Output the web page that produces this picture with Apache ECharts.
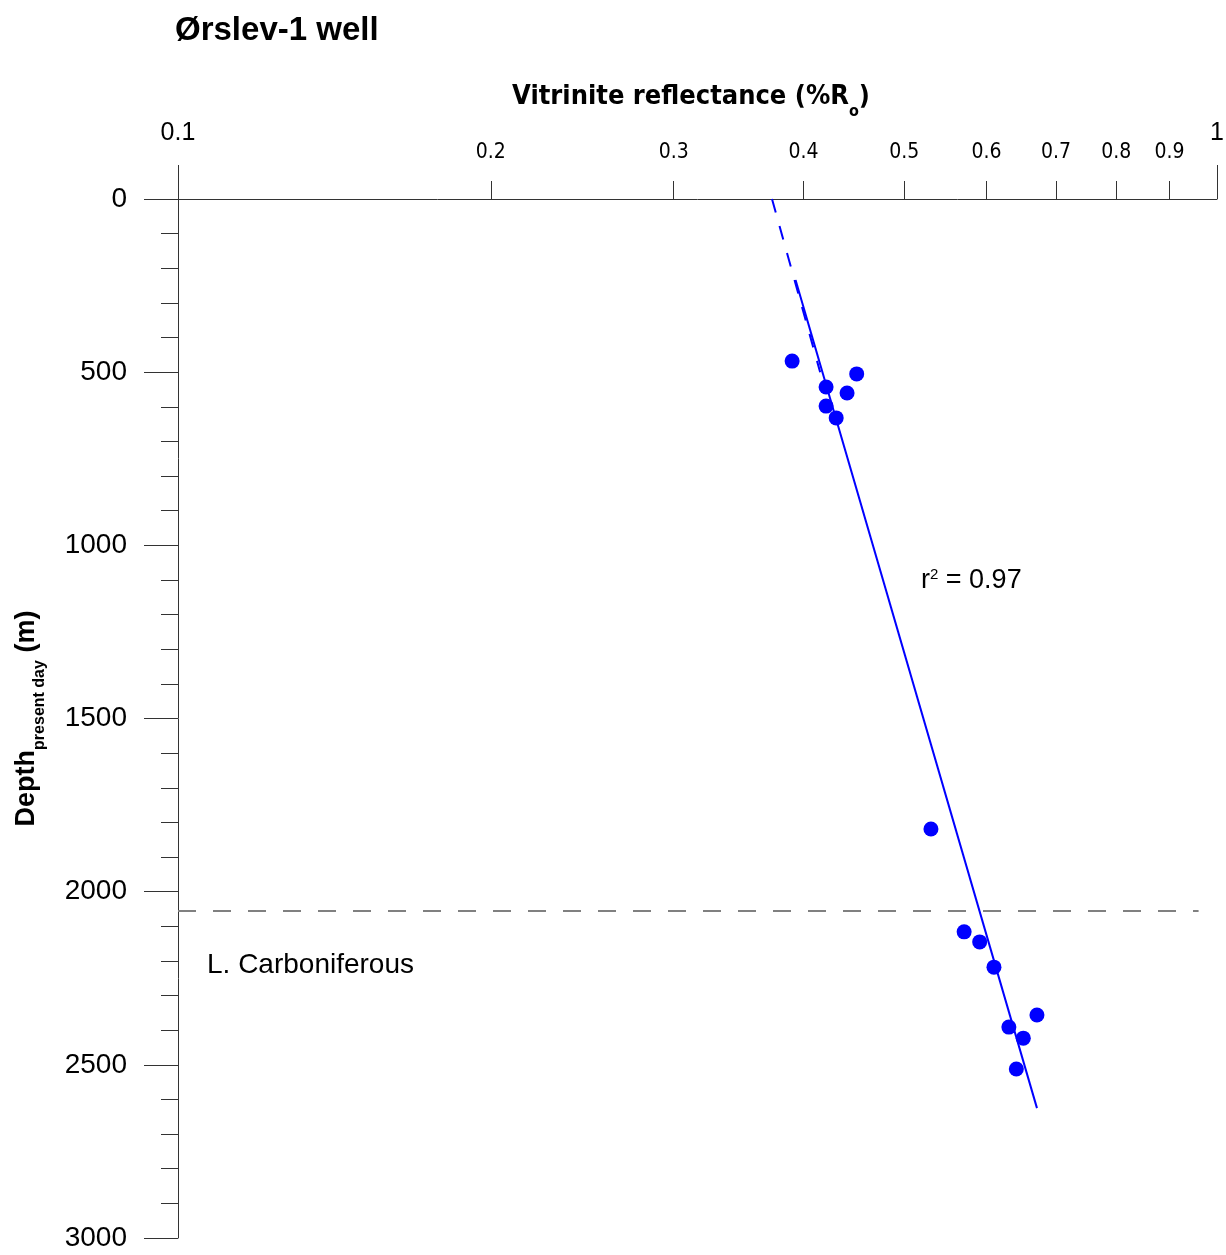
<!DOCTYPE html>
<html><head><meta charset="utf-8">
<script src="https://cdn.jsdelivr.net/npm/echarts@6/dist/echarts.min.js"></script>
<style>html,body{margin:0;padding:0;background:#fff}#c{width:1226px;height:1255px}</style>
</head><body><div id="c"></div>
<script>
// Measured vitrinite reflectance (%Ro) and present-day depth (m)
const ro    = [0.390, 0.4205, 0.4205, 0.430, 0.4405, 0.450, 0.5305, 0.571, 0.591, 0.610, 0.6305, 0.671, 0.651, 0.641];
const depth = [468,   543,    598,    632,   560,    505,   1819,   2116,  2145,  2218,  2391,   2356,  2423,  2512];
// Regression line (solid) and its upward extrapolation (dashed)
const trendRo = [0.393, 0.671];
const trendDepth = [234, 2625];
const extrapRo = [0.373, 0.415];
const extrapDepth = [0, 500];
// Top of Lower Carboniferous
const boundaryRo = [0.1, 0.96];
const boundaryDepth = [2056, 2056];
// Axis ticks
const majorXTicks = [0.1, 1];
const minorXTicks = [0.2, 0.3, 0.4, 0.5, 0.6, 0.7, 0.8, 0.9];

const pts = (xs, ys) => xs.map((x, i) => [x, ys[i]]);
const FONT = 'Arial, "Liberation Sans", Helvetica, sans-serif';
const NARROW = '"Liberation Sans Narrow", "Arial Narrow", "DejaVu Sans Condensed", Arial, sans-serif';
const chart = echarts.init(document.getElementById('c'));
chart.setOption({
  backgroundColor: '#fff',
  animation: false,
  title: [
    { text: 'Ørslev-1 well', left: 170, top: 9,
      textStyle: { fontFamily: FONT, fontWeight: 'bold', fontSize: 33, color: '#000' } },
    { text: '{a|Vitrinite reflectance (%R}{s|o}{a|)}', left: 686, top: 78, textAlign: 'center',
      textStyle: { rich: {
        a: { fontFamily: NARROW, fontWeight: 'bold', fontSize: 27, color: '#000' },
        s: { fontFamily: NARROW, fontWeight: 'bold', fontSize: 16, color: '#000', verticalAlign: 'bottom', padding: [0, 0, -10, 0] }
      } } },
    { text: '{a|r}{s|2}{a| = 0.97}', left: 916, top: 562,
      textStyle: { fontWeight: 'normal', rich: {
        a: { fontFamily: FONT, fontWeight: 'normal', fontSize: 27, color: '#000' },
        s: { fontFamily: FONT, fontWeight: 'normal', fontSize: 15, color: '#000', verticalAlign: 'top', padding: [0, 0, 8, 0] }
      } } },
    { text: 'L. Carboniferous', left: 202, top: 946,
      textStyle: { fontFamily: FONT, fontWeight: 'normal', fontSize: 28, color: '#000' } }
  ],
  grid: { left: 178, right: 9, top: 199, bottom: 17, containLabel: false, outerBoundsMode: 'none' },
  xAxis: [
    { type: 'log', logBase: 10, min: 0.1, max: 1, position: 'top',
      axisLine: { show: true, lineStyle: { color: '#333', width: 1 } },
      axisTick: { show: true, length: 34, customValues: majorXTicks, lineStyle: { color: '#333' } },
      axisLabel: { show: true, customValues: majorXTicks, margin: 53, fontSize: 25, fontFamily: FONT, color: '#000',
        formatter: v => String(v) },
      splitLine: { show: false }, minorTick: { show: false }, minorSplitLine: { show: false } },
    { type: 'log', logBase: 10, min: 0.1, max: 1, position: 'top',
      axisLine: { show: false },
      axisTick: { show: true, length: 18, customValues: minorXTicks, lineStyle: { color: '#333' } },
      axisLabel: { show: true, customValues: minorXTicks, margin: 36, fontSize: 21, fontFamily: NARROW, color: '#000',
        formatter: v => String(v) },
      splitLine: { show: false } }
  ],
  yAxis: {
    type: 'value', inverse: true, min: 0, max: 3000, interval: 500,
    name: '{b|Depth}{s|present day}{b| (m)}', nameLocation: 'middle', nameGap: 138, nameRotate: 90,
    nameTextStyle: { rich: {
      b: { fontFamily: FONT, fontWeight: 'bold', fontSize: 27, color: '#000' },
      s: { fontFamily: FONT, fontWeight: 'bold', fontSize: 16, color: '#000', verticalAlign: 'bottom', padding: [0, 0, -8, 0] }
    } },
    axisLine: { show: true, lineStyle: { color: '#333', width: 1 } },
    axisTick: { show: true, length: 34, lineStyle: { color: '#333' } },
    minorTick: { show: true, splitNumber: 5, length: 17, lineStyle: { color: '#333' } },
    axisLabel: { margin: 51, fontSize: 28, fontFamily: FONT, color: '#000', formatter: v => String(v) },
    splitLine: { show: false }, minorSplitLine: { show: false }
  },
  series: [
    { type: 'line', data: pts(boundaryRo, boundaryDepth), symbol: 'none', silent: true,
      lineStyle: { color: '#808080', width: 2, type: [18, 17] } },
    { type: 'line', data: pts(extrapRo, extrapDepth), symbol: 'none', silent: true,
      lineStyle: { color: '#0000ff', width: 2, type: [14, 14] } },
    { type: 'line', data: pts(trendRo, trendDepth), symbol: 'none', silent: true,
      lineStyle: { color: '#0000ff', width: 2 } },
    { type: 'scatter', data: pts(ro, depth), symbol: 'circle', symbolSize: 15,
      itemStyle: { color: '#0000ff', opacity: 1 } }
  ]
});
</script></body></html>
